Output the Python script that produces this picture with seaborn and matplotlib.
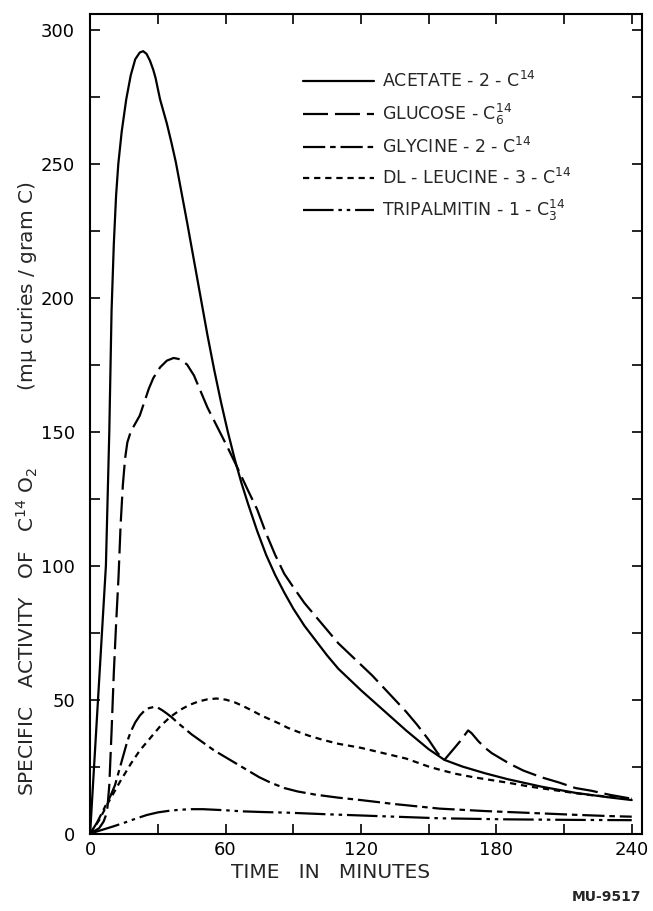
"""Specific activity of C14O2 after injection of labelled substrates."""

import matplotlib

matplotlib.use("Agg")
import matplotlib.pyplot as plt  # noqa: E402
import seaborn as sns  # noqa: E402
from matplotlib.ticker import MultipleLocator  # noqa: E402

# ---- data (minutes, mu-curies / gram C) ----
acetate_t = [0, 3.5, 7, 8.5, 9.5, 10.5, 11.5, 12.5, 14, 16, 18, 20, 22, 23.5, 25, 26.5, 28,
             29, 30, 31, 32, 34, 36, 38, 40, 43, 46, 49, 52, 55, 58, 61, 64, 67, 70, 74, 78,
             82, 86, 90, 95, 100, 105, 110, 115, 120, 130, 140, 150, 157, 165, 175, 185, 200,
             215, 230, 240]
acetate = [0, 50, 100, 150, 195, 220, 238, 250, 262, 274, 283, 289, 291.5, 292, 291, 288.5,
           285, 282, 278, 274, 271, 265, 258, 250.5, 241.5, 228, 214, 200, 186, 173, 161, 150,
           140, 131, 123, 113, 104, 96.5, 90, 84, 77.5, 72, 66.5, 61.5, 57.5, 53.5, 46, 38.5,
           31.5, 27.5, 25, 22.5, 20.3, 17.5, 15.2, 13.5, 12.5]

glucose_t = [0, 4, 6, 7.5, 8.5, 9.5, 10.5, 11.5, 12.6, 13.5, 14.5, 15.5, 16.5, 18, 20, 22,
             24, 26, 28, 31, 34, 37, 40, 43, 46, 49, 52, 55, 58, 61, 65, 70, 74, 78, 82, 86,
             90, 95, 100, 105, 110, 115, 120, 125, 130, 135, 140, 145, 150, 154, 157, 160,
             164, 167.5, 169, 172, 175, 178, 182, 186, 192, 200, 208, 215, 222, 230, 240]
glucose = [0, 2, 4.5, 8, 18, 38, 60, 78, 96, 115, 130, 140, 146, 150, 153, 156, 161, 166, 170,
           174, 176.5, 177.5, 177, 175, 171, 165, 159, 154, 149, 144, 137, 128, 121, 112, 104,
           97, 92, 86, 81, 76, 71, 67, 63, 59, 54.5, 50, 45.5, 40.5, 35, 30, 27.5, 30.5, 34.5,
           38.5, 37.5, 34.5, 32, 30, 28, 26, 23.5, 21, 19, 17, 16, 14.5, 13]

glycine_t = [0, 3, 6, 9, 11, 13, 15, 16.5, 18, 20, 22, 24, 26, 28, 30, 32, 34, 36, 40, 45, 50,
             55, 59, 65, 70, 75, 80, 86, 92, 100, 110, 120, 135, 155, 175, 195, 215, 231, 240]
glycine = [0, 4, 9, 14, 18, 24, 30, 34.5, 38, 41.5, 44, 45.8, 46.8, 47.2, 47, 46, 44.8, 43.5,
           40.5, 37, 34, 31, 29, 26, 23.5, 21, 19, 17, 15.7, 14.5, 13.4, 12.5, 11, 9.3, 8.4,
           7.7, 7, 6.5, 6.3]

leucine_t = [0, 4, 8, 13, 18, 22, 27, 31, 35.5, 40, 44, 48, 52, 56, 60, 64, 68, 72, 76, 80,
             84, 87.5, 92, 97, 103, 110, 120, 130, 140, 150, 155, 162, 170, 185, 195, 204,
             220, 240]
leucine = [0, 5, 11.5, 19, 26, 31, 36, 40, 43.5, 46.2, 48, 49.3, 50.1, 50.4, 50, 49, 47.5,
           45.8, 44, 42.5, 41, 39.5, 38, 36.5, 35, 33.5, 32, 30, 28, 25, 23.8, 22.3, 21, 19,
           17.5, 16.4, 14.5, 13]

tripalmitin_t = [0, 5, 10, 15, 20, 25, 30, 35, 40, 45, 50, 55, 60, 67, 78, 87.5, 105, 125,
                 155, 185, 215, 240]
tripalmitin = [0, 1.3, 2.6, 4, 5.5, 6.9, 7.9, 8.5, 8.9, 9.1, 9.1, 8.9, 8.7, 8.3, 8, 7.8, 7.2,
               6.6, 5.7, 5.3, 5.1, 5]

labels = [
    r"ACETATE - 2 - C$^{14}$",
    r"GLUCOSE - C$_6^{14}$",
    r"GLYCINE - 2 - C$^{14}$",
    r"DL - LEUCINE - 3 - C$^{14}$",
    r"TRIPALMITIN - 1 - C$_3^{14}$",
]

sns.set_theme(style="ticks")
plt.rcParams["font.family"] = ["DejaVu Sans"]
plt.rcParams["mathtext.default"] = "regular"
plt.rcParams["lines.scale_dashes"] = False

fig = plt.figure(figsize=(6.53, 9.11), dpi=100)
ax = fig.add_axes([0.138, 0.085, 0.845, 0.90])

series = [
    (acetate_t, acetate, None),
    (glucose_t, glucose, (18, 5)),
    (glycine_t, glycine, (16, 3.5, 4, 3.5)),
    (leucine_t, leucine, (4.5, 3.5)),
    (tripalmitin_t, tripalmitin, (22, 3.5, 2.5, 3.5, 2.5, 3.5)),
]
for (t, v, dash), lab in zip(series, labels):
    sns.lineplot(x=t, y=v, ax=ax, color="black", linewidth=1.6, sort=False,
                 estimator=None, label=lab)
    if dash is not None:
        ax.lines[-1].set_dashes(dash)

ax.set_xlim(0, 244.5)
ax.set_ylim(0, 306)
ax.xaxis.set_major_locator(MultipleLocator(60))
ax.xaxis.set_minor_locator(MultipleLocator(30))
ax.yaxis.set_major_locator(MultipleLocator(50))
ax.yaxis.set_minor_locator(MultipleLocator(25))
ax.tick_params(which="both", direction="in", top=True, right=True, length=7, width=1.2,
               labelsize=13, colors="black")
ax.tick_params(axis="y", pad=11)
ax.tick_params(axis="x", pad=5)
for sp in ax.spines.values():
    sp.set_linewidth(1.5)
    sp.set_color("black")

ax.set_xlabel("TIME   IN   MINUTES", fontsize=14.5)
ax.xaxis.set_label_coords(0.435, -0.036)
gap = " " * 12
ax.set_ylabel(r"SPECIFIC   ACTIVITY   OF   C$^{14}$ O$_2$" + gap
              + r"(m$\mu$ curies / gram C)", fontsize=14.5)
ax.yaxis.set_label_coords(-0.09, 0.42)

leg = ax.legend(loc="upper left", bbox_to_anchor=(0.385, 0.93), frameon=False,
                fontsize=12.5, handlelength=4.1, handletextpad=0.5, labelspacing=0.6,
                borderpad=0, borderaxespad=0)
for line in leg.get_lines():
    line.set_linewidth(1.6)

fig.text(0.982, 0.008, "MU-9517", ha="right", va="bottom", fontsize=10, fontweight="bold")

fig.savefig("out.png", dpi=100)
